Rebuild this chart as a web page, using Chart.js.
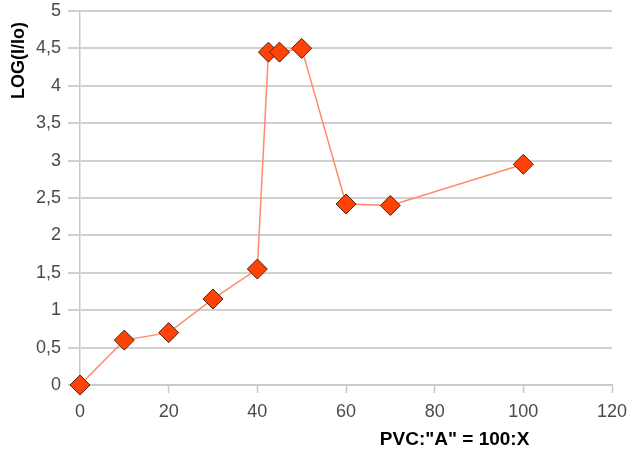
<!DOCTYPE html>
<html>
<head>
<meta charset="utf-8">
<script src="https://cdn.jsdelivr.net/npm/chart.js@4"></script>
<style>
  html, body { margin: 0; padding: 0; background: #fff; }
</style>
</head>
<body>
<canvas id="chart" width="628" height="450"></canvas>
<script>
// data
const ratioX = [0, 10, 20, 30, 40, 42.5, 45, 50, 60, 70, 100];
const logValues = [0, 0.6, 0.7, 1.15, 1.55, 4.45, 4.45, 4.5, 2.42, 2.4, 2.95];
const xTitle = 'PVC:"A" = 100:X';
const yTitle = 'LOG(I/Io)';

const points = ratioX.map((x, i) => ({ x: x, y: logValues[i] }));
const fontFamily = '"Liberation Sans", Arial, sans-serif';

// both axis titles are placed off-centre in the original, so draw them by hand
const axisTitles = {
    id: 'axisTitles',
    afterDraw(chart) {
        const c = chart.ctx;
        const xs = chart.scales.x;
        c.save();
        c.fillStyle = '#000';
        c.font = 'bold 19px ' + fontFamily;
        c.textAlign = 'center';
        c.textBaseline = 'middle';
        c.fillText(xTitle, xs.getPixelForValue(84.5), 440);

        c.font = 'bold 18px ' + fontFamily;
        c.translate(19, 22);
        c.rotate(-Math.PI / 2);
        c.textAlign = 'right';
        c.fillText(yTitle, 0, 0);
        c.restore();
    }
};

const ctx = document.getElementById('chart');
new Chart(ctx, {
    type: 'line',
    data: {
        datasets: [{
            data: points,
            borderColor: '#ff8a6e',
            borderWidth: 1.5,
            pointStyle: 'rectRot',
            pointRadius: 10,
            pointHoverRadius: 10,
            pointBackgroundColor: '#ff4306',
            pointBorderColor: '#4a2418',
            pointBorderWidth: 1,
            tension: 0,
            clip: false
        }]
    },
    options: {
        responsive: false,
        animation: false,
        layout: { padding: 0 },
        plugins: {
            legend: { display: false },
            tooltip: { enabled: false }
        },
        scales: {
            x: {
                type: 'linear',
                min: 0,
                max: 120,
                ticks: {
                    stepSize: 20,
                    color: '#4a4a4a',
                    font: { family: fontFamily, size: 18 },
                    padding: 8
                },
                // only the little tick marks below the axis, no vertical lines
                grid: {
                    drawOnChartArea: false,
                    color: 'rgba(0,0,0,0)',
                    tickColor: '#c8c8c8',
                    tickWidth: 1.5,
                    tickLength: 8
                },
                border: { color: '#c8c8c8', width: 1.5 },
                afterFit(scale) {
                    scale.height = 65;
                    scale.paddingLeft = 0;
                    scale.paddingRight = 16;
                }
            },
            y: {
                min: 0,
                max: 5,
                ticks: {
                    stepSize: 0.5,
                    color: '#4a4a4a',
                    font: { family: fontFamily, size: 18 },
                    padding: 7,
                    callback: v => String(v).replace('.', ',')
                },
                grid: { color: '#d0d0d0', lineWidth: 2, tickLength: 12 },
                border: { color: '#c8c8c8', width: 1.5 },
                afterFit(scale) {
                    scale.width = 80;
                    scale.paddingTop = 11;
                    scale.paddingBottom = 0;
                }
            }
        }
    },
    plugins: [axisTitles]
});
</script>
</body>
</html>
